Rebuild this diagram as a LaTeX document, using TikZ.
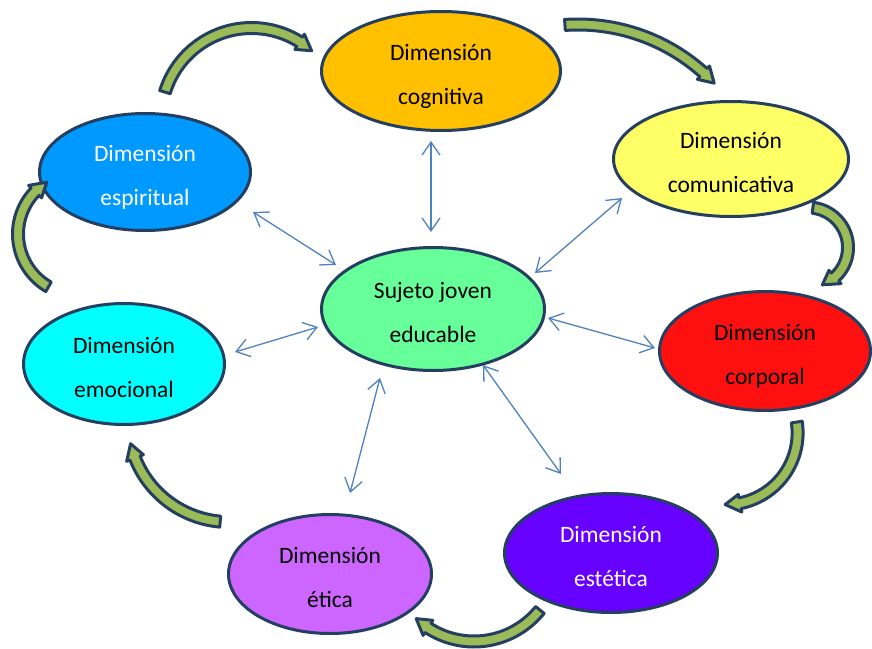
\documentclass[tikz,border=0pt]{standalone}
\usepackage{fontspec}
\setmainfont{Carlito}
\usetikzlibrary{shapes.geometric,arrows.meta}

\definecolor{navy}{HTML}{243F60}
\definecolor{linkblue}{HTML}{4F81BD}
\definecolor{leaf}{HTML}{9BBB59}
\definecolor{cCog}{HTML}{FFC000}
\definecolor{cCom}{HTML}{FFFF66}
\definecolor{cCor}{HTML}{FF1010}
\definecolor{cEst}{HTML}{6600FF}
\definecolor{cEti}{HTML}{CC66FF}
\definecolor{cEmo}{HTML}{00FFFF}
\definecolor{cEsp}{HTML}{0099FF}
\definecolor{cCen}{HTML}{66FF99}

\tikzset{
  dim/.style={ellipse, draw=navy, line width=3pt, inner sep=0pt, align=center,
    text height=66pt, text depth=0pt, font=\fontsize{23.5}{44}\selectfont},
  link/.style={draw=linkblue, line width=1.3pt,
    {Straight Barb[length=13pt,width=18pt]}-{Straight Barb[length=13pt,width=18pt]}},
  cyclearrow/.style={draw=navy, fill=leaf, line width=3pt, line join=round}
}

% curved block arrow along a circle: centre x, centre y, radius, start angle, end angle
\newcommand\greenarc[5]{%
  \pgfmathsetmacro\gaRo{#3+5.5}%
  \pgfmathsetmacro\gaRi{#3-5.5}%
  \pgfmathsetmacro\gaHo{#3+9}%
  \pgfmathsetmacro\gaHi{#3-9}%
  \pgfmathsetmacro\gaTip{#5+15/(#3)*57.2958}%
  \draw[cyclearrow] plot[domain=#4:#5,samples=40] ({#1+\gaRo*cos(\x)},{#2+\gaRo*sin(\x)})
     -- ({#1+\gaHo*cos(#5)},{#2+\gaHo*sin(#5)})
     -- ({#1+#3*cos(\gaTip)},{#2+#3*sin(\gaTip)})
     -- ({#1+\gaHi*cos(#5)},{#2+\gaHi*sin(#5)})
     -- plot[domain=#5:#4,samples=40] ({#1+\gaRi*cos(\x)},{#2+\gaRi*sin(\x)})
     -- cycle;}

\begin{document}
\begin{tikzpicture}[x=1pt,y=-1pt]
\useasboundingbox (0,0) rectangle (872,648);

% dimensions around the subject
\node[dim, fill=cCog, minimum width=239, minimum height=119] (cog) at (441,71) {Dimensión\\cognitiva};
\node[dim, fill=cCom, minimum width=235, minimum height=115] (com) at (731,159) {Dimensión\\comunicativa};
\node[dim, fill=cCor, minimum width=211, minimum height=119] (cor) at (765,351) {Dimensión\\corporal};
\node[dim, fill=cEst, minimum width=213, minimum height=119, text=white] (est) at (611,553) {Dimensión\\estética};
\node[dim, fill=cEti, minimum width=203, minimum height=119] (eti) at (330,574) {Dimensión\\ética};
\node[dim, fill=cEmo, minimum width=201, minimum height=121] (emo) at (124,364) {Dimensión\\emocional};
\node[dim, fill=cEsp, minimum width=211, minimum height=117, text=white] (esp) at (145,172) {Dimensión\\espiritual};
\node[dim, fill=cCen, minimum width=223, minimum height=123] (cen) at (433,309) {Sujeto joven\\educable};

% ends of the two-way links
\coordinate (l1a) at (431,141); \coordinate (l1b) at (431,232);
\coordinate (l2a) at (622,198); \coordinate (l2b) at (535,273);
\coordinate (l3a) at (655,348); \coordinate (l3b) at (548,318);
\coordinate (l4a) at (561,474); \coordinate (l4b) at (483,365);
\coordinate (l5a) at (350,493); \coordinate (l5b) at (380,378);
\coordinate (l6a) at (235,352); \coordinate (l6b) at (318,327);
\coordinate (l7a) at (253,212); \coordinate (l7b) at (336,265);

\draw[link] (l1a) -- (l1b);
\draw[link] (l2a) -- (l2b);
\draw[link] (l3a) -- (l3b);
\draw[link] (l4a) -- (l4b);
\draw[link] (l5a) -- (l5b);
\draw[link] (l6a) -- (l6b);
\draw[link] (l7a) -- (l7b);

% clockwise cycle of curved arrows
\greenarc{251.6}{118.6}{90.6}{197}{302}
\greenarc{578}{212}{187.5}{266}{312}
\greenarc{808}{247.5}{40}{277}{407.5}
\greenarc{726}{433}{71.6}{-8.8}{78.7}
\greenarc{474}{557}{84.5}{38.8}{123}
\greenarc{229}{421}{101}{95}{158.5}
\greenarc{79}{234}{61}{120}{224}
\end{tikzpicture}
\end{document}
